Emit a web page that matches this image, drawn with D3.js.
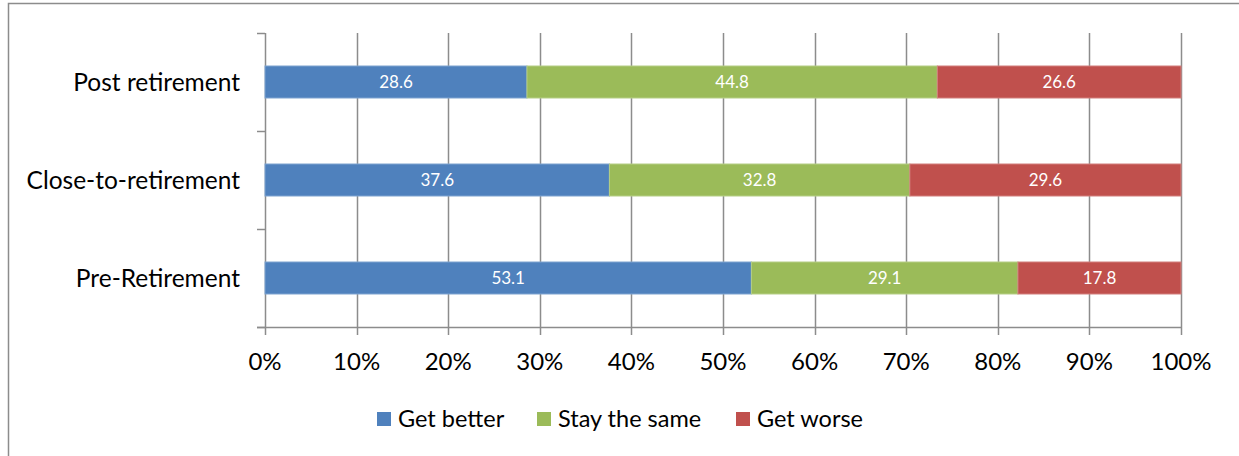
<!DOCTYPE html>
<html>
<head>
<meta charset="utf-8">
<script src="https://cdn.jsdelivr.net/npm/d3@7"></script>
<style>
  html, body { margin: 0; padding: 0; background: #fff; }
  svg { display: block; }
  text { font-family: Lato, "Open Sans", "Noto Sans", sans-serif; }
</style>
</head>
<body>
<svg id="chart" width="1239" height="456"></svg>
<script>
// Stacked 100% bar chart: outlook by retirement stage
const categories = ["Post retirement", "Close-to-retirement", "Pre-Retirement"];
const seriesNames = ["Get better", "Stay the same", "Get worse"];
const getBetter = [28.6, 37.6, 53.1];
const staySame = [44.8, 32.8, 29.1];
const getWorse = [26.6, 29.6, 17.8];
const xTicks = [0, 10, 20, 30, 40, 50, 60, 70, 80, 90, 100];
const colors = ["#4F81BD", "#9BBB59", "#C0504D"];
const strokeColors = ["#7FA3D0", "#B5CE86", "#D27F7D"];

const svg = d3.select("#chart");
const gridColor = "#8C8C8C";

// outer chart frame
svg.append("path")
  .attr("d", "M8.5,456 V3.5 H1239")
  .attr("fill", "none")
  .attr("stroke", gridColor)
  .attr("stroke-width", 1.5);

const plot = { left: 265, right: 1181, top: 33, bottom: 327 };

const x = d3.scaleLinear().domain([0, 100]).range([plot.left, plot.right]);
const y = d3.scaleBand().domain(categories).range([plot.top, plot.bottom]).paddingInner(0).paddingOuter(0);

// vertical gridlines, extending below the axis as tick marks
svg.append("g").selectAll("line")
  .data(xTicks)
  .join("line")
  .attr("x1", d => Math.round(x(d)) + 0.5)
  .attr("x2", d => Math.round(x(d)) + 0.5)
  .attr("y1", plot.top)
  .attr("y2", plot.bottom + 8)
  .attr("stroke", gridColor)
  .attr("stroke-width", 1.5);

// category axis tick marks (band boundaries)
const bandEdges = [plot.top].concat(categories.map(c => y(c) + y.bandwidth()));
svg.append("g").selectAll("line")
  .data(bandEdges)
  .join("line")
  .attr("x1", plot.left - 8)
  .attr("x2", plot.left)
  .attr("y1", d => Math.round(d) + 0.5)
  .attr("y2", d => Math.round(d) + 0.5)
  .attr("stroke", gridColor)
  .attr("stroke-width", 1.5);

// horizontal axis line
svg.append("line")
  .attr("x1", plot.left - 8)
  .attr("x2", plot.right)
  .attr("y1", plot.bottom + 0.5)
  .attr("y2", plot.bottom + 0.5)
  .attr("stroke", gridColor)
  .attr("stroke-width", 1.5);

// stack data
const rows = categories.map((c, i) => ({
  category: c,
  "Get better": getBetter[i],
  "Stay the same": staySame[i],
  "Get worse": getWorse[i]
}));
const stack = d3.stack().keys(seriesNames)(rows);

const barH = 32;
const layers = svg.append("g").selectAll("g")
  .data(stack)
  .join("g")
  .attr("fill", (d, i) => colors[i])
  .attr("stroke", (d, i) => strokeColors[i]);

layers.selectAll("rect")
  .data(d => d)
  .join("rect")
  .attr("x", d => x(d[0]))
  .attr("width", d => x(d[1]) - x(d[0]))
  .attr("y", d => y(d.data.category) + y.bandwidth() / 2 - barH / 2)
  .attr("height", barH)
  .attr("stroke-width", 1);

// value labels inside segments
layers.selectAll("text")
  .data(d => d.map(v => ({ v, key: d.key })))
  .join("text")
  .attr("x", d => (x(d.v[0]) + x(d.v[1])) / 2)
  .attr("y", d => y(d.v.data.category) + y.bandwidth() / 2)
  .attr("dy", "0.36em")
  .attr("text-anchor", "middle")
  .attr("fill", "#fff")
  .attr("stroke", "none")
  .attr("font-size", 17)
  .text(d => d.v.data[d.key].toFixed(1));

// category labels
svg.append("g").selectAll("text")
  .data(categories)
  .join("text")
  .attr("x", 240)
  .attr("y", d => y(d) + y.bandwidth() / 2)
  .attr("dy", "0.35em")
  .attr("text-anchor", "end")
  .attr("font-size", 24.5)
  .attr("fill", "#000")
  .text(d => d);

// x tick labels
svg.append("g").selectAll("text")
  .data(xTicks)
  .join("text")
  .attr("x", d => x(d))
  .attr("y", 362)
  .attr("dy", "0.35em")
  .attr("text-anchor", "middle")
  .attr("font-size", 24)
  .attr("fill", "#000")
  .text(d => d + "%");

// legend
const legendX = [377, 537, 736];
const legend = svg.append("g").selectAll("g")
  .data(seriesNames)
  .join("g")
  .attr("transform", (d, i) => `translate(${legendX[i]},412)`);
legend.append("rect")
  .attr("width", 14)
  .attr("height", 14)
  .attr("fill", (d, i) => colors[i]);
legend.append("text")
  .attr("x", 21)
  .attr("y", 7)
  .attr("dy", "0.35em")
  .attr("font-size", 23.5)
  .attr("fill", "#000")
  .text(d => d);
</script>
</body>
</html>
